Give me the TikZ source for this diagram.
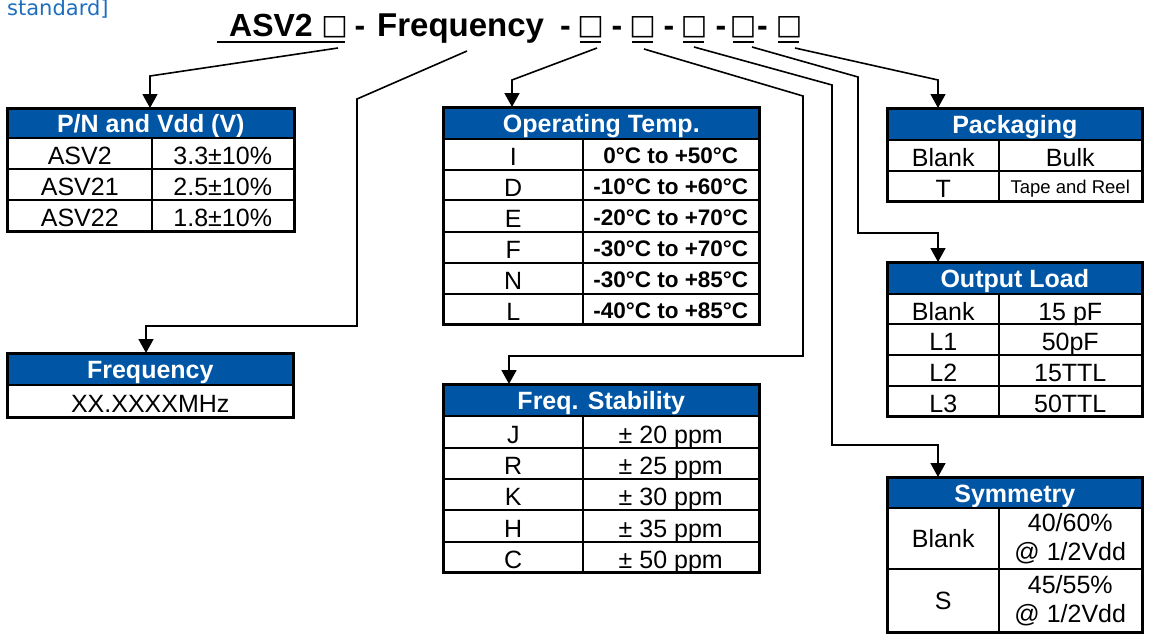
\documentclass[tikz,border=0pt]{standalone}
\usepackage{fontspec}
\setmainfont{Liberation Sans}
\newfontfamily\dejavu{DejaVu Sans}
\usetikzlibrary{arrows.meta,calc}
\definecolor{hdrblue}{RGB}{0,85,165}
\definecolor{stdblue}{RGB}{30,110,190}
\newcommand\myrow[8]{%
  \node[cell,minimum width={(#3-#2)*1pt},minimum height={(#6-#5)*1pt}] (#1l) at (#2,#5) {#7};
  \node[cell,minimum width={(#4-#3)*1pt},minimum height={(#6-#5)*1pt}] (#1r) at (#3,#5) {#8};}
\newcommand\tmp[1]{\raisebox{2pt}{\fontsize{22.5}{26}\bfseries #1}}
\begin{document}
\begin{tikzpicture}[x=1pt,y=-1pt,
  conn/.style={line width=1.6pt},
  arr/.style={conn,-{Triangle[width=15pt,length=14pt]}},
  uline/.style={line width=2.2pt},
  ttl/.style={font=\fontsize{32}{36}\bfseries\selectfont,inner sep=0pt},
  box/.style={font=\dejavu\fontsize{28}{36}\selectfont,inner sep=0pt,anchor=base},
  hdr/.style={fill=hdrblue,draw=black,line width=1.6pt,text=white,font=\fontsize{25}{29}\bfseries\selectfont,anchor=north west,inner sep=0pt,text height=19pt,text depth=0pt},
  cell/.style={draw=black,line width=1.5pt,anchor=north west,inner sep=0pt,font=\fontsize{25}{29}\selectfont,text height=23pt,text depth=0pt},
  mcell/.style={draw=black,line width=1.5pt,anchor=north west,inner sep=0pt,font=\fontsize{25}{29}\selectfont,align=center},
  outer/.style={draw=black,line width=2pt}
]
\useasboundingbox (0,0) rectangle (1150,635);

% top-left fragment
\node[anchor=base west,inner sep=0pt,text=stdblue,font=\dejavu\fontsize{21}{24}\selectfont] (std) at (7,15) {standard]};

% title
\node[ttl,anchor=base west] (t0) at (229,36) {ASV2};
\node[box] (b0) at (334.5,34) {□};
\node[ttl,anchor=base] (d0) at (360,36) {-};
\node[ttl,anchor=base west,font=\fontsize{33}{36}\bfseries\selectfont] (fr) at (377,36) {Frequency};
\node[ttl,anchor=base] (d1) at (565.5,36) {-};
\node[box] (b1) at (590.5,34) {□};
\node[ttl,anchor=base] (d2) at (617,36) {-};
\node[box] (b2) at (642.5,34) {□};
\node[ttl,anchor=base] (d3) at (669,36) {-};
\node[box] (b3) at (694,34) {□};
\node[ttl,anchor=base] (d4) at (721,36) {-};
\node[box] (b4) at (743,34) {□};
\node[ttl,anchor=base] (d5) at (762.5,36) {-};
\node[box] (b5) at (789,34) {□};
\draw[uline] (217,42) -- (345,42);
\draw[uline] (580,42) -- (601,42);
\draw[uline] (632,42) -- (653,42);
\draw[uline] (683,42) -- (704,42);
\draw[uline] (733,42) -- (754,42);
\draw[uline] (778,42) -- (799,42);

% P/N table
\node[hdr,minimum width=286pt,minimum height=29pt] (pn) at (7,108) {P/N and Vdd (V)};
\myrow{pa}{7}{151}{293}{137}{168}{ASV2}{3.3±10\%}
\myrow{pb}{7}{151}{293}{168}{199}{ASV21}{2.5±10\%}
\myrow{pc}{7}{151}{293}{199}{230}{ASV22}{1.8±10\%}
\draw[outer] (pn.north west) rectangle (pcr.south east);

% Frequency table
\node[hdr,minimum width=285pt,minimum height=31pt] (freq) at (7,353) {Frequency};
\node[cell,minimum width=285pt,minimum height=32pt] (freqv) at (7,384) {XX.XXXXMHz};
\draw[outer] (freq.north west) rectangle (freqv.south east);

% Operating temp table
\node[hdr,minimum width=315pt,minimum height=31pt] (temp) at (443,107) {Operating Temp.};
\myrow{ta}{443}{582}{758}{138}{169}{I}{\tmp{0°C to +50°C}}
\myrow{tb}{443}{582}{758}{169}{199}{D}{\tmp{-10°C to +60°C}}
\myrow{tc}{443}{582}{758}{199}{231}{E}{\tmp{-20°C to +70°C}}
\myrow{td}{443}{582}{758}{231}{262}{F}{\tmp{-30°C to +70°C}}
\myrow{te}{443}{582}{758}{262}{293}{N}{\tmp{-30°C to +85°C}}
\myrow{tf}{443}{582}{758}{293}{323}{L}{\tmp{-40°C to +85°C}}
\draw[outer] (temp.north west) rectangle (tfr.south east);

% Freq stability table
\node[hdr,minimum width=315pt,minimum height=31pt] (stab) at (443,384) {Freq. Stability};
\myrow{sa}{443}{582}{758}{415}{447}{J}{± 20 ppm}
\myrow{sb}{443}{582}{758}{447}{478}{R}{± 25 ppm}
\myrow{sc}{443}{582}{758}{478}{509}{K}{± 30 ppm}
\myrow{sd}{443}{582}{758}{509}{541}{H}{± 35 ppm}
\myrow{se}{443}{582}{758}{541}{571}{C}{± 50 ppm}
\draw[outer] (stab.north west) rectangle (ser.south east);

% Packaging table
\node[hdr,minimum width=254pt,minimum height=31pt] (pack) at (887,108) {Packaging};
\myrow{pka}{887}{998}{1141}{139}{170}{Blank}{Bulk}
\myrow{pkb}{887}{998}{1141}{170}{200}{T}{\raisebox{4pt}{\fontsize{18.5}{22}\selectfont Tape and Reel}}
\draw[outer] (pack.north west) rectangle (pkbr.south east);

% Output load table
\node[hdr,minimum width=254pt,minimum height=31pt] (load) at (887,262) {Output Load};
\myrow{la}{887}{998}{1141}{293}{323}{Blank}{15 pF}
\myrow{lb}{887}{998}{1141}{323}{354}{L1}{50pF}
\myrow{lc}{887}{998}{1141}{354}{385}{L2}{15TTL}
\myrow{ld}{887}{998}{1141}{385}{415}{L3}{50TTL}
\draw[outer] (load.north west) rectangle (ldr.south east);

% Symmetry table
\node[hdr,minimum width=254pt,minimum height=30pt] (sym) at (887,477) {Symmetry};
\node[cell,minimum width=111pt,minimum height=61pt,text height=18pt] (syal) at (887,507) {Blank};
\node[mcell,minimum width=143pt,minimum height=61pt] (syar) at (998,507) {40/60\%\\@ 1/2Vdd};
\node[cell,minimum width=111pt,minimum height=63pt,text height=18pt] (sybl) at (887,568) {S};
\node[mcell,minimum width=143pt,minimum height=63pt] (sybr) at (998,568) {45/55\%\\@ 1/2Vdd};
\draw[outer] (sym.north west) rectangle (sybr.south east);

% connectors
\coordinate (s0) at (338,48);  \coordinate (k0) at (150,76);
\coordinate (s1) at (467,51);  \coordinate (k1) at (357,99);  \coordinate (m1) at (357,326); \coordinate (n1) at (146,326);
\coordinate (s2) at (597,48);  \coordinate (k2) at (512,80);
\coordinate (s3) at (644,49);  \coordinate (k3) at (803,96);  \coordinate (m3) at (803,356); \coordinate (n3) at (509,356);
\coordinate (s4) at (694,47);  \coordinate (k4) at (832,85);  \coordinate (m4) at (832,445); \coordinate (n4) at (938,445);
\coordinate (s5) at (752,47);  \coordinate (k5) at (858,77);  \coordinate (m5) at (858,233); \coordinate (n5) at (938,233);
\coordinate (s6) at (795,48);  \coordinate (k6) at (938,80);

\draw[arr] (s0) -- (k0) -- (k0 |- pn.north);
\draw[arr] (s1) -- (k1) -- (m1) -- (n1) -- (n1 |- freq.north);
\draw[arr] (s2) -- (k2) -- (k2 |- temp.north);
\draw[arr] (s3) -- (k3) -- (m3) -- (n3) -- (n3 |- stab.north);
\draw[arr] (s4) -- (k4) -- (m4) -- (n4) -- (n4 |- sym.north);
\draw[arr] (s5) -- (k5) -- (m5) -- (n5) -- (n5 |- load.north);
\draw[arr] (s6) -- (k6) -- (k6 |- pack.north);
\end{tikzpicture}
\end{document}
